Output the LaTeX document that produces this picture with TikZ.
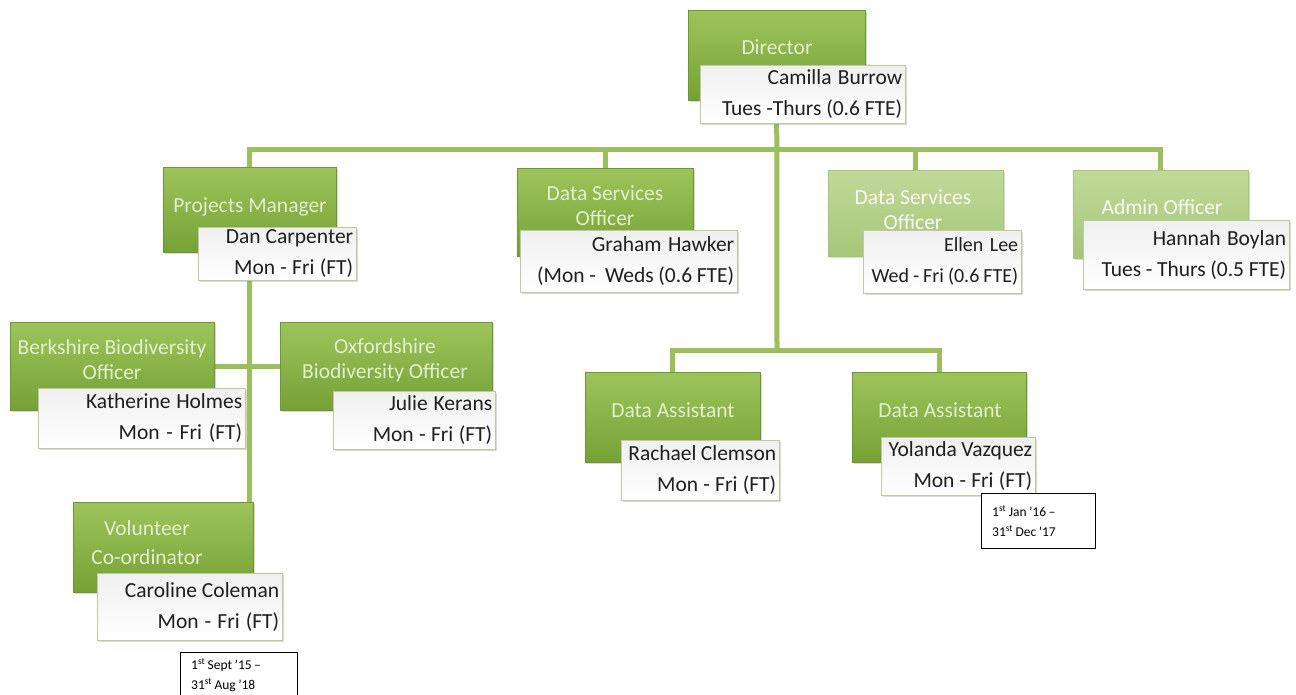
\documentclass[tikz,border=0pt]{standalone}
\usepackage{fontspec}
\setmainfont{Carlito}
\usetikzlibrary{positioning, shadows, backgrounds}

\definecolor{grntop}{HTML}{9CC45B}
\definecolor{grnbot}{HTML}{76A135}
\definecolor{grnedge}{HTML}{6E9731}
\definecolor{litetop}{HTML}{C0DA99}
\definecolor{litebot}{HTML}{A6C679}
\definecolor{ttltext}{HTML}{E3EFCF}
\definecolor{linkgrn}{HTML}{9DBE5C}
\definecolor{wedge}{HTML}{BCC9A6}

% tighter word spacing, close to the original Calibri look
\newcommand\tightspace[1]{\spaceskip=#1\fontdimen2\font plus 0.3\fontdimen2\font minus 0.2\fontdimen2\font\relax}

\tikzset{
  grnbox/.style={draw=grnedge, top color=grntop, bottom color=grnbot, anchor=north west,
    drop shadow={opacity=0.3, shadow xshift=2pt, shadow yshift=-2pt}},
  litebox/.style={grnbox, draw=litebot, top color=litetop, bottom color=litebot},
  ttl/.style={text=ttltext, align=center, font=\fontsize{21.5}{25}\selectfont},
  wbox/.style={draw=wedge, top color=black!6, bottom color=white, anchor=north west,
    align=right, inner xsep=3pt, inner ysep=1pt, text=black!88,
    font=\fontsize{21.5}{31}\selectfont,
    execute at begin node={\tightspace{0.85}},
    drop shadow={opacity=0.3, shadow xshift=2pt, shadow yshift=-2pt}},
  datebox/.style={draw=black, fill=white, anchor=north west, align=left, inner xsep=11pt,
    font=\fontsize{13.5}{20}\selectfont, execute at begin node={\tightspace{0.8}}},
  link/.style={draw=linkgrn, line width=5pt}
}

\begin{document}
\begin{tikzpicture}[x=1pt, y=-1pt]
    \useasboundingbox (0,0) rectangle (1296,695);

    % Director
    \node[grnbox, minimum width=177, minimum height=90] (dir) at (688,10) {};
    \node[ttl] (dirT) at (777,47) {Director};
    \node[wbox, text width=199, minimum height=58] (dirP) at (700,65) {Camilla Burrow\\Tues -Thurs (0.6 FTE)};

    % Projects Manager
    \node[grnbox, minimum width=173, minimum height=85] (pm) at (163,167) {};
    \node[ttl] (pmT) at (250,207) {Projects Manager};
    \node[wbox, text width=152, minimum height=53] (pmP) at (198,227) {Dan Carpenter\\Mon - Fri (FT)};

    % Data Services Officer (Graham)
    \node[grnbox, minimum width=176, minimum height=88] (dso1) at (517,168) {};
    \node[ttl] (dso1T) at (605,206) {Data Services\\Officer};
    \node[wbox, text width=211, minimum height=62] (dso1P) at (520,230) {Graham Hawker\\(Mon - \ Weds (0.6 FTE)};

    % Data Services Officer (Ellen)
    \node[litebox, minimum width=175, minimum height=86] (dso2) at (828,170) {};
    \node[ttl, text=white!90!litetop] (dso2T) at (913,210) {Data Services\\Officer};
    \node[wbox, text width=152, minimum height=63, font=\fontsize{20}{31}\selectfont] (dso2P) at (863,230) {Ellen Lee\\Wed~-~Fri (0.6~FTE)};

    % Admin Officer
    \node[litebox, minimum width=175, minimum height=88] (adm) at (1073,170) {};
    \node[ttl, text=white!90!litetop] (admT) at (1162,207) {Admin Officer};
    \node[wbox, text width=200, minimum height=69] (admP) at (1083,220) {Hannah Boylan\\Tues - Thurs (0.5 FTE)};

    % Berkshire Biodiversity Officer
    \node[grnbox, minimum width=204, minimum height=88] (bbo) at (10,322) {};
    \node[ttl] (bboT) at (112,360) {Berkshire Biodiversity\\Officer};
    \node[wbox, text width=201, minimum height=60] (bboP) at (38,388) {Katherine Holmes\\Mon - Fri (FT)};

    % Oxfordshire Biodiversity Officer
    \node[grnbox, minimum width=212, minimum height=88] (obo) at (280,322) {};
    \node[ttl] (oboT) at (385,360) {Oxfordshire\\Biodiversity Officer};
    \node[wbox, text width=156, minimum height=58] (oboP) at (333,391) {Julie Kerans\\Mon - Fri (FT)};

    % Volunteer Co-ordinator
    \node[grnbox, minimum width=180, minimum height=90] (vol) at (73,502) {};
    \node[ttl, font=\fontsize{21.5}{29}\selectfont] (volT) at (147,543) {Volunteer\\Co-ordinator};
    \node[wbox, text width=179, minimum height=67] (volP) at (97,573) {Caroline Coleman\\Mon - Fri (FT)};
    \node[datebox, text width=95, minimum height=46] (volD) at (180,652) {1\textsuperscript{st} Sept ’15 –\\31\textsuperscript{st} Aug ’18};

    % Data Assistants
    \node[grnbox, minimum width=175, minimum height=90] (da1) at (585,372) {};
    \node[ttl] (da1T) at (673,410) {Data Assistant};
    \node[wbox, text width=152, minimum height=60] (da1P) at (621,440) {Rachael Clemson\\Mon - Fri (FT)};

    \node[grnbox, minimum width=174, minimum height=90] (da2) at (852,372) {};
    \node[ttl] (da2T) at (940,410) {Data Assistant};
    \node[wbox, text width=148, minimum height=58] (da2P) at (881,437) {Yolanda Vazquez\\Mon - Fri (FT)};
    \node[datebox, text width=92, minimum height=55] (da2D) at (981,493) {1\textsuperscript{st} Jan ’16 –\\31\textsuperscript{st} Dec ’17};

    % Connectors
    \begin{scope}[on background layer]
        \coordinate (hub) at (777,150);
        \coordinate (hubda) at (777,350);
        \draw[link] (dir.south) -- (hubda);
        \draw[link] (hub) -| (pm.north);
        \draw[link] (hub) -| (dso1.north);
        \draw[link] (hub) -| (dso2.north);
        \draw[link] (hub) -| (adm.north);
        \draw[link] (pm.south) -- (pm.south |- vol.north);
        \draw[link] (bbo.east) -- (obo.west);
        \draw[link] (hubda) -| (da1.north);
        \draw[link] (hubda) -| (da2.north);
    \end{scope}
\end{tikzpicture}
\end{document}
